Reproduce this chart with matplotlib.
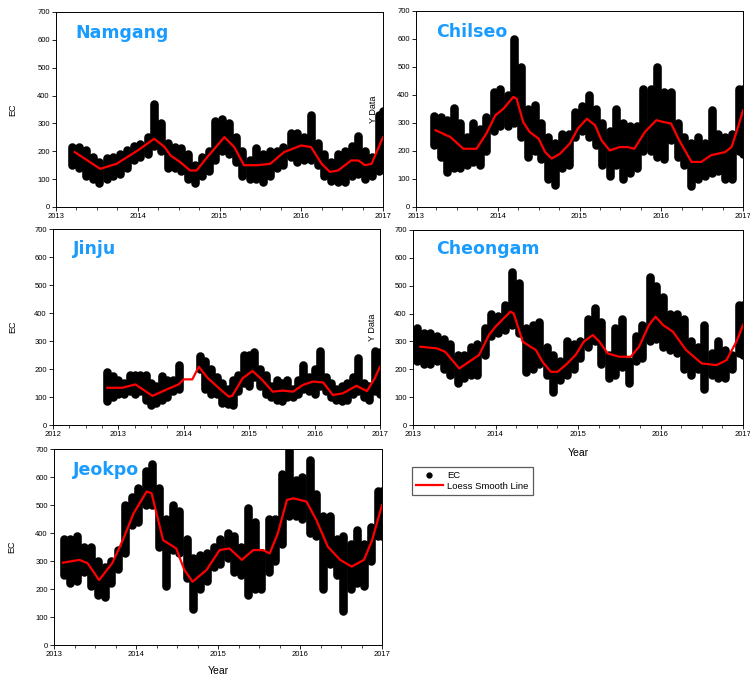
import matplotlib
matplotlib.use("Agg")
import matplotlib.pyplot as plt
from matplotlib.lines import Line2D
import numpy as np

# ---------------- DATA (decimal years, EC values) ----------------
# Namgang
nam_t = [2013.20, 2013.28, 2013.37, 2013.45, 2013.53, 2013.62, 2013.70, 2013.78, 2013.87, 2013.95,
         2014.03, 2014.12, 2014.20, 2014.28, 2014.37, 2014.45, 2014.53, 2014.62, 2014.70, 2014.78,
         2014.87, 2014.95, 2015.03, 2015.12, 2015.20, 2015.28, 2015.37, 2015.45, 2015.53, 2015.62,
         2015.70, 2015.78, 2015.87, 2015.95, 2016.03, 2016.12, 2016.20, 2016.28, 2016.37, 2016.45,
         2016.53, 2016.62, 2016.70, 2016.78, 2016.87, 2016.95, 2017.00]
nam_lo = [150, 140, 110, 100, 85, 100, 110, 120, 140, 170, 180, 190, 220, 200, 140, 140, 130, 100, 85, 110,
          130, 170, 200, 190, 160, 110, 100, 100, 90, 110, 140, 150, 180, 160, 170, 170, 150, 110, 95, 90,
          90, 110, 120, 100, 110, 130, 140]
nam_hi = [215, 215, 205, 180, 160, 175, 180, 190, 205, 220, 225, 250, 370, 300, 230, 215, 210, 190, 150, 180,
          200, 310, 315, 300, 250, 200, 170, 210, 190, 200, 200, 215, 265, 265, 250, 330, 230, 190, 160, 190,
          200, 220, 255, 200, 180, 330, 345]
nam_st = [2013.23, 2013.54, 2013.74, 2014.00, 2014.20, 2014.33, 2014.40, 2014.52, 2014.64, 2014.72, 2014.85,
          2015.06, 2015.18, 2015.30, 2015.46, 2015.62, 2015.79, 2016.00, 2016.12, 2016.25, 2016.35, 2016.45,
          2016.61, 2016.70, 2016.78, 2016.86, 2017.00]
nam_sv = [197, 137, 155, 203, 245, 215, 185, 161, 131, 131, 179, 251, 215, 150, 150, 155, 197, 221, 215, 155,
          126, 131, 167, 167, 150, 155, 251]

# Chilseo
chi_t = [2013.22, 2013.30, 2013.38, 2013.46, 2013.54, 2013.62, 2013.70, 2013.78, 2013.86, 2013.95,
         2014.03, 2014.12, 2014.20, 2014.28, 2014.37, 2014.45, 2014.53, 2014.62, 2014.70, 2014.78,
         2014.87, 2014.95, 2015.03, 2015.12, 2015.20, 2015.28, 2015.37, 2015.45, 2015.53, 2015.62,
         2015.70, 2015.78, 2015.87, 2015.95, 2016.03, 2016.12, 2016.20, 2016.28, 2016.37, 2016.45,
         2016.53, 2016.62, 2016.70, 2016.78, 2016.87, 2016.95, 2017.00]
chi_lo = [220, 180, 125, 140, 140, 150, 160, 150, 200, 270, 290, 290, 300, 250, 180, 200, 170, 100, 80, 140,
          150, 250, 270, 250, 220, 150, 110, 150, 100, 120, 140, 200, 200, 180, 170, 240, 180, 150, 75, 100,
          110, 120, 130, 100, 100, 200, 190]
chi_hi = [325, 320, 310, 355, 300, 250, 300, 280, 320, 410, 420, 400, 600, 500, 350, 365, 300, 250, 230, 260,
          260, 340, 360, 400, 350, 300, 270, 350, 300, 290, 290, 420, 420, 500, 410, 410, 300, 250, 230, 250,
          230, 345, 260, 250, 260, 420, 420]
chi_st = [2013.24, 2013.42, 2013.58, 2013.74, 2013.86, 2013.97, 2014.07, 2014.19, 2014.23, 2014.31, 2014.39,
          2014.50, 2014.58, 2014.66, 2014.76, 2014.88, 2014.98, 2015.09, 2015.19, 2015.27, 2015.37, 2015.49,
          2015.59, 2015.67, 2015.80, 2015.94, 2016.02, 2016.12, 2016.22, 2016.37, 2016.49, 2016.61, 2016.78,
          2016.86, 2016.94, 2017.00]
chi_sv = [274, 250, 208, 208, 262, 327, 351, 393, 387, 304, 268, 244, 196, 173, 190, 226, 280, 315, 292, 238,
          202, 214, 214, 208, 268, 310, 304, 298, 238, 161, 161, 185, 196, 214, 286, 345]

# Jinju
jin_t = [2012.83, 2012.92, 2013.00, 2013.08, 2013.17, 2013.25, 2013.33, 2013.42, 2013.50, 2013.58,
         2013.67, 2013.75, 2013.83, 2013.92, 2014.25, 2014.33, 2014.42, 2014.50, 2014.58, 2014.67,
         2014.75, 2014.83, 2014.92, 2015.00, 2015.08, 2015.17, 2015.25, 2015.33, 2015.42, 2015.50,
         2015.58, 2015.67, 2015.75, 2015.83, 2015.92, 2016.00, 2016.08, 2016.17, 2016.25, 2016.33,
         2016.42, 2016.50, 2016.58, 2016.67, 2016.75, 2016.83, 2016.92, 2017.00]
jin_lo = [85, 100, 110, 110, 120, 110, 120, 90, 70, 80, 90, 100, 120, 130, 200, 130, 110, 110, 80, 75,
          70, 120, 150, 140, 170, 140, 110, 100, 90, 85, 100, 100, 110, 130, 120, 110, 140, 120, 100, 90,
          85, 90, 110, 120, 100, 90, 120, 110]
jin_hi = [190, 175, 160, 150, 180, 180, 180, 180, 150, 140, 175, 160, 160, 215, 245, 230, 200, 170, 150, 130,
          160, 180, 250, 250, 260, 200, 180, 140, 160, 150, 160, 130, 160, 215, 170, 200, 265, 170, 150, 130,
          140, 150, 170, 240, 150, 140, 265, 260]
jin_st = [2012.83, 2013.06, 2013.26, 2013.52, 2013.72, 2013.92, 2014.00, 2014.13, 2014.23, 2014.36, 2014.54,
          2014.69, 2014.74, 2014.90, 2015.05, 2015.20, 2015.36, 2015.51, 2015.67, 2015.82, 2015.97, 2016.13,
          2016.28, 2016.43, 2016.64, 2016.80, 2016.92, 2017.00]
jin_sv = [133, 133, 145, 104, 125, 145, 163, 163, 208, 169, 131, 101, 104, 167, 193, 161, 119, 123, 119, 143,
          155, 152, 107, 113, 140, 121, 167, 208]

# Cheongam
che_t = [2013.05, 2013.13, 2013.21, 2013.29, 2013.37, 2013.45, 2013.54, 2013.62, 2013.70, 2013.78,
         2013.87, 2013.95, 2014.03, 2014.12, 2014.20, 2014.28, 2014.37, 2014.45, 2014.53, 2014.62,
         2014.70, 2014.78, 2014.87, 2014.95, 2015.03, 2015.12, 2015.20, 2015.28, 2015.37, 2015.45,
         2015.53, 2015.62, 2015.70, 2015.78, 2015.87, 2015.95, 2016.03, 2016.12, 2016.20, 2016.28,
         2016.37, 2016.45, 2016.53, 2016.62, 2016.70, 2016.78, 2016.87, 2016.95, 2017.00]
che_lo = [230, 220, 220, 230, 200, 180, 150, 170, 180, 180, 250, 320, 330, 340, 360, 330, 190, 200, 220, 180,
          120, 160, 180, 200, 240, 280, 300, 220, 170, 180, 210, 150, 230, 240, 300, 310, 280, 270, 260, 200,
          180, 200, 130, 180, 170, 170, 200, 260, 250]
che_hi = [350, 330, 330, 320, 310, 290, 250, 250, 280, 290, 350, 400, 390, 430, 550, 510, 350, 360, 370, 280,
          250, 230, 300, 290, 300, 380, 420, 370, 250, 350, 380, 230, 320, 360, 530, 500, 460, 400, 400, 380,
          300, 280, 360, 260, 300, 270, 250, 430, 430]
che_st = [2013.09, 2013.29, 2013.39, 2013.56, 2013.68, 2013.80, 2013.92, 2014.00, 2014.12, 2014.18, 2014.22,
          2014.33, 2014.49, 2014.57, 2014.67, 2014.75, 2014.85, 2014.97, 2015.07, 2015.18, 2015.26, 2015.36,
          2015.50, 2015.64, 2015.74, 2015.86, 2015.94, 2016.03, 2016.15, 2016.31, 2016.50, 2016.68, 2016.80,
          2016.92, 2017.00]
che_sv = [281, 275, 263, 203, 227, 251, 323, 353, 389, 407, 401, 299, 269, 227, 191, 191, 215, 251, 299, 323,
          299, 257, 245, 245, 281, 359, 389, 359, 335, 269, 221, 215, 233, 299, 359]

# Jeokpo
jeo_t = [2013.12, 2013.20, 2013.28, 2013.37, 2013.45, 2013.54, 2013.62, 2013.70, 2013.78, 2013.87,
         2013.95, 2014.03, 2014.12, 2014.20, 2014.28, 2014.37, 2014.45, 2014.53, 2014.62, 2014.70,
         2014.78, 2014.87, 2014.95, 2015.03, 2015.12, 2015.20, 2015.28, 2015.37, 2015.45, 2015.53,
         2015.62, 2015.70, 2015.78, 2015.87, 2015.95, 2016.03, 2016.12, 2016.20, 2016.28, 2016.37,
         2016.45, 2016.53, 2016.62, 2016.70, 2016.78, 2016.87, 2016.95, 2017.00]
jeo_lo = [250, 220, 230, 260, 210, 180, 170, 220, 270, 330, 430, 440, 500, 500, 350, 210, 340, 330, 240, 130,
          200, 230, 280, 290, 310, 260, 250, 180, 200, 200, 260, 300, 360, 460, 460, 450, 400, 390, 200, 290,
          250, 120, 200, 220, 210, 300, 390, 390]
jeo_hi = [380, 380, 390, 350, 350, 300, 280, 300, 340, 500, 530, 560, 620, 645, 560, 450, 500, 480, 380, 310,
          320, 330, 350, 380, 400, 390, 350, 490, 440, 330, 450, 450, 610, 700, 590, 600, 660, 540, 460, 460,
          380, 390, 360, 410, 360, 420, 550, 550]
jeo_st = [2013.11, 2013.31, 2013.41, 2013.55, 2013.71, 2013.84, 2013.97, 2014.13, 2014.19, 2014.33, 2014.49,
          2014.59, 2014.69, 2014.86, 2015.02, 2015.14, 2015.29, 2015.43, 2015.55, 2015.63, 2015.73, 2015.84,
          2015.92, 2016.08, 2016.20, 2016.34, 2016.49, 2016.63, 2016.78, 2016.88, 2017.00]
jeo_sv = [294, 304, 292, 232, 292, 375, 470, 548, 542, 375, 345, 268, 226, 268, 339, 345, 304, 339, 339, 327,
          399, 518, 524, 512, 446, 351, 304, 280, 304, 375, 500]

station_names = ["Namgang", "Chilseo", "Jinju", "Cheongam", "Jeokpo"]
y_ticks = [0, 100, 200, 300, 400, 500, 600, 700]

# ---------------- LAYOUT ----------------
W, H = 750, 678
fig = plt.figure(figsize=(W / 100, H / 100), dpi=100)
plt.rcParams['font.family'] = ['Liberation Sans', 'DejaVu Sans']


def px_axes(l, t, r, b):
    return fig.add_axes([l / W, 1 - b / H, (r - l) / W, (b - t) / H])


panels = [
    dict(box=(56, 12, 383, 207), t=nam_t, lo=nam_lo, hi=nam_hi, st=nam_st, sv=nam_sv,
         name=station_names[0], xlim=(2013, 2017), ylabel="EC", ylx=-0.119, xlabel=None, xly=0, tx=0.058, ty=0.892),
    dict(box=(416, 11, 743, 207), t=chi_t, lo=chi_lo, hi=chi_hi, st=chi_st, sv=chi_sv,
         name=station_names[1], xlim=(2013, 2017), ylabel="Y Data", ylx=-0.116, xlabel=None, xly=0, tx=0.061, ty=0.893),
    dict(box=(53, 229, 380, 425), t=jin_t, lo=jin_lo, hi=jin_hi, st=jin_st, sv=jin_sv,
         name=station_names[2], xlim=(2012, 2017), ylabel="EC", ylx=-0.11, xlabel=None, xly=0, tx=0.061, ty=0.898),
    dict(box=(413, 230, 743, 425), t=che_t, lo=che_lo, hi=che_hi, st=che_st, sv=che_sv,
         name=station_names[3], xlim=(2013, 2017), ylabel="Y Data", ylx=-0.109, xlabel="Year", xly=-0.143,
         tx=0.07, ty=0.9),
    dict(box=(54, 449, 382, 645), t=jeo_t, lo=jeo_lo, hi=jeo_hi, st=jeo_st, sv=jeo_sv,
         name=station_names[4], xlim=(2013, 2017), ylabel="EC", ylx=-0.116, xlabel="Year", xly=-0.133,
         tx=0.058, ty=0.893),
]

for p in panels:
    ax = px_axes(*p["box"])
    ax.text(p["tx"], p["ty"], p["name"], transform=ax.transAxes, color="#1a9cff",
            fontsize=12.5, fontweight="bold", family="DejaVu Sans", va="center", ha="left", zorder=1)
    vl = ax.vlines(p["t"], p["lo"], p["hi"], colors="black", linewidth=6.2, zorder=2)
    vl.set_capstyle("round")
    ax.plot(p["st"], p["sv"], color="red", linewidth=1.6, zorder=3)
    x0, x1 = p["xlim"]
    ax.set_xlim(x0, x1)
    ax.set_ylim(0, 700)
    ax.set_xticks(list(range(x0, x1 + 1)))
    ax.set_xticks(np.arange(x0, x1 + 0.01, 0.25), minor=True)
    ax.set_yticks(y_ticks)
    ax.tick_params(axis="both", which="major", labelsize=5.5, length=3, width=0.6, direction="out", pad=1.5)
    ax.tick_params(axis="x", which="minor", length=1.8, width=0.5, direction="out")
    for s in ax.spines.values():
        s.set_linewidth(0.7)
    ax.set_ylabel(p["ylabel"], fontsize=6.5)
    ax.yaxis.set_label_coords(p["ylx"], 0.5)
    if p["xlabel"]:
        ax.set_xlabel(p["xlabel"], fontsize=7.5)
        ax.xaxis.label.set_verticalalignment("center")
        ax.xaxis.set_label_coords(0.5, p["xly"])

handles = [Line2D([], [], linestyle="none", marker="o", color="black", markersize=3.5),
           Line2D([], [], color="red", linewidth=1.6)]
leg = fig.legend(handles, ["EC", "Loess Smooth Line"], loc="upper left",
                 bbox_to_anchor=(412 / W, 1 - 467 / H), fontsize=6.8, frameon=True,
                 fancybox=False, edgecolor="#333333", handlelength=2.8, borderpad=0.45,
                 labelspacing=0.15, handletextpad=0.5, borderaxespad=0)
leg.get_frame().set_linewidth(0.9)

fig.savefig("out.png", dpi=100)
